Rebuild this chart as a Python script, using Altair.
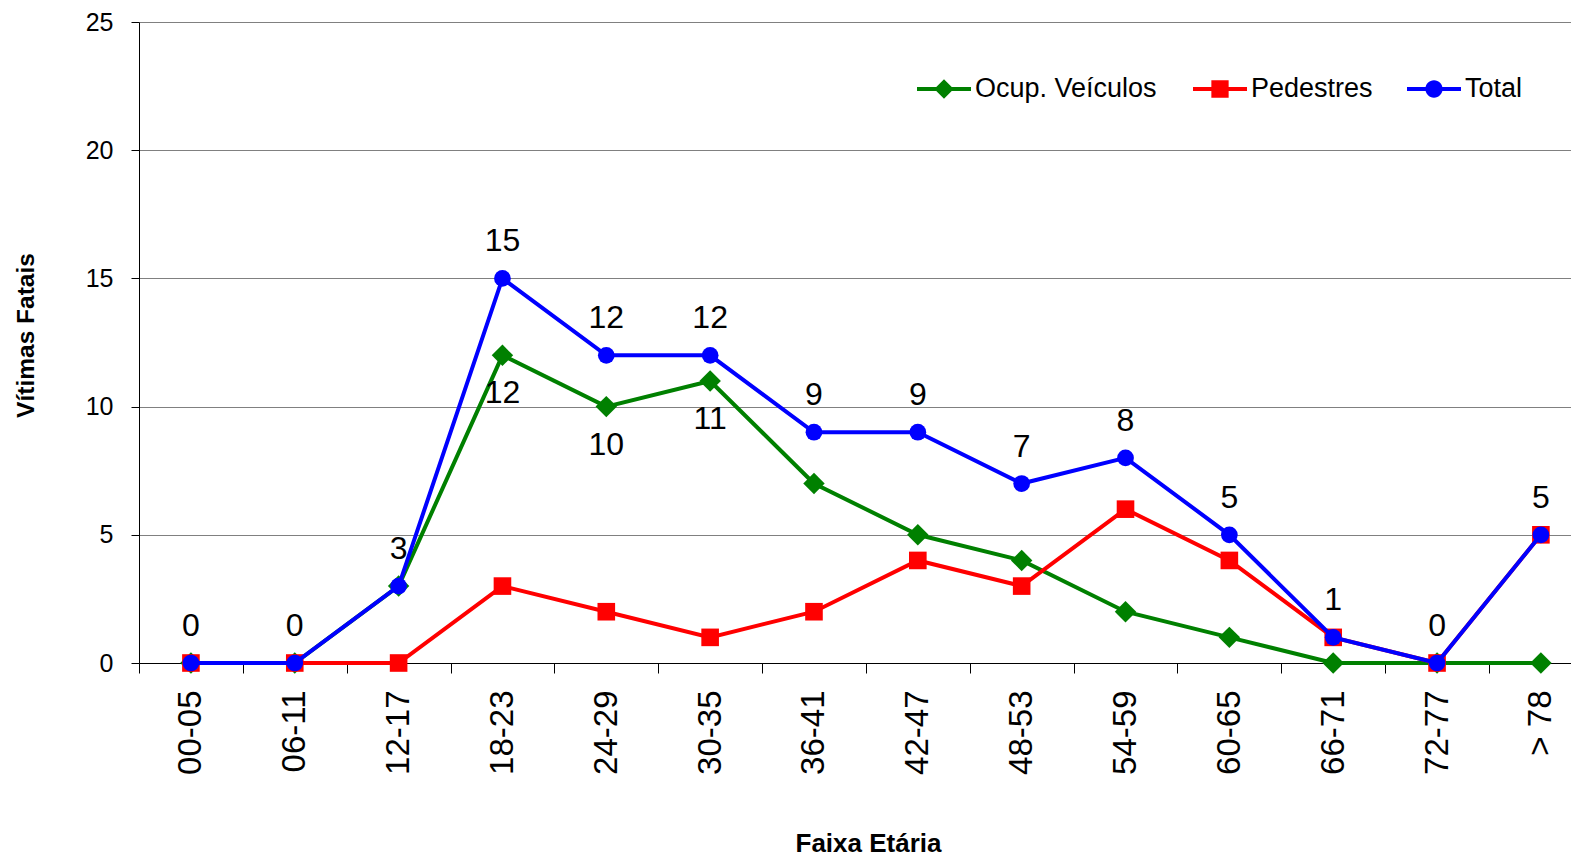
import json
import altair as alt
import pandas as pd

# ---- data ----
categories = ["00-05", "06-11", "12-17", "18-23", "24-29", "30-35", "36-41",
              "42-47", "48-53", "54-59", "60-65", "66-71", "72-77", "> 78"]
ocup_veiculos = [0, 0, 3, 12, 10, 11, 7, 5, 4, 2, 1, 0, 0, 0]
pedestres = [0, 0, 0, 3, 2, 1, 2, 4, 3, 6, 4, 1, 0, 5]
total = [0, 0, 3, 15, 12, 12, 9, 9, 7, 8, 5, 1, 0, 5]
series_names = ["Ocup. Veículos", "Pedestres", "Total"]
ocup_labelled = ["18-23", "24-29", "30-35"]
y_ticks = [0, 5, 10, 15, 20, 25]

rows = []
for name, vals in zip(series_names, [ocup_veiculos, pedestres, total]):
    for i, (cat, v) in enumerate(zip(categories, vals)):
        rows.append({"serie": name, "idx": i, "faixa": cat, "valor": v})
df = pd.DataFrame(rows)

# ---- styling ----
FONT = "Liberation Sans"
colors = {"Ocup. Veículos": "#008000", "Pedestres": "#FF0000", "Total": "#0000FF"}
shapes = {"Ocup. Veículos": "diamond", "Pedestres": "square", "Total": "circle"}
sizes = {"Ocup. Veículos": 460, "Pedestres": 310, "Total": 280}
bar = "M-1,-0.074L1,-0.074L1,0.074L-1,0.074Z"
legend_paths = {
    "Ocup. Veículos": bar + "M0,-0.36L0.36,0L0,0.36L-0.36,0Z",
    "Pedestres": bar + "M-0.32,-0.32L0.32,-0.32L0.32,0.32L-0.32,0.32Z",
    "Total": bar + "M-0.32,0A0.32,0.32,0,1,1,0.32,0A0.32,0.32,0,1,1,-0.32,0Z",
}
legend_x = {"Ocup. Veículos": 778, "Pedestres": 1054, "Total": 1268}

n = len(categories)
tick_vals = sorted([i - 0.5 for i in range(n)] + list(range(n)))
label_expr = "datum.value % 1 === 0 ? " + json.dumps(categories) + "[datum.value] : ''"

x_enc = alt.X(
    "idx:Q",
    scale=alt.Scale(domain=[-0.5, 13.29], nice=False, zero=False),
    axis=alt.Axis(
        values=tick_vals, labelExpr=label_expr, labelAngle=-90,
        labelFont=FONT, labelFontSize=33, labelColor="black",
        labelOverlap=False, labelFlush=False, labelPadding=17,
        tickSize=10, tickColor="black", tickWidth=1,
        tickOpacity={"condition": {"test": "datum.value % 1 === 0", "value": 0}, "value": 1},
        domainColor="black", domainWidth=1, grid=False,
        title="Faixa Etária", titleFont=FONT, titleFontSize=26, titleFontWeight="bold",
        titleColor="black", titleX=729, titleY=188, titleBaseline="alphabetic",
        titleAlign="center",
    ),
)
y_enc = alt.Y(
    "valor:Q",
    scale=alt.Scale(domain=[0, 25], nice=False),
    axis=alt.Axis(
        values=y_ticks, labelFont=FONT, labelFontSize=25, labelColor="black",
        labelPadding=18, tickSize=8, tickColor="black",
        domainColor="black", domainWidth=1,
        grid=True, gridColor="#808080", gridWidth=1,
        title="Vítimas Fatais", titleFont=FONT, titleFontSize=24.5, titleFontWeight="bold",
        titleColor="black", titleX=-106, titleY=313, titleBaseline="alphabetic",
        titleAlign="center", titleAngle=-90,
    ),
)

layers = []
for name in series_names:
    d = df[df["serie"] == name]
    base = alt.Chart(d)
    line = base.mark_line(color=colors[name], strokeWidth=4).encode(x=x_enc, y=y_enc)
    pts = base.mark_point(
        filled=True, shape=shapes[name], size=sizes[name], opacity=1, strokeWidth=0
    ).encode(
        x=x_enc, y=y_enc,
        color=alt.Color(
            "serie:N",
            scale=alt.Scale(domain=[name], range=[colors[name]]),
            legend=alt.Legend(
                title=None, orient="none", legendX=legend_x[name], legendY=40,
                symbolType=legend_paths[name], symbolSize=2916, symbolStrokeWidth=0,
                symbolOpacity=1, labelFont=FONT, labelFontSize=27, labelColor="black",
                labelOffset=4, labelLimit=600, padding=0,
            ),
        ),
    )
    layers += [line, pts]

total_labels = alt.Chart(df[df["serie"] == "Total"]).mark_text(
    dy=-37, font=FONT, fontSize=32, color="black", baseline="middle"
).encode(x=x_enc, y=y_enc, text="valor:Q")
ocup_labels = alt.Chart(
    df[(df["serie"] == "Ocup. Veículos") & (df["faixa"].isin(ocup_labelled))]
).mark_text(
    dy=38, font=FONT, fontSize=32, color="black", baseline="middle"
).encode(x=x_enc, y=y_enc, text="valor:Q")
layers += [total_labels, ocup_labels]

chart = alt.layer(*layers).resolve_scale(color="independent").properties(
    width=1432, height=641,
    autosize=alt.AutoSizeParams(type="none"),
    padding={"left": 131, "top": 14, "right": 0, "bottom": 196},
    background="white",
).configure_view(stroke=None)

chart.save("out.html", embed_options={"renderer": "svg", "actions": False})
